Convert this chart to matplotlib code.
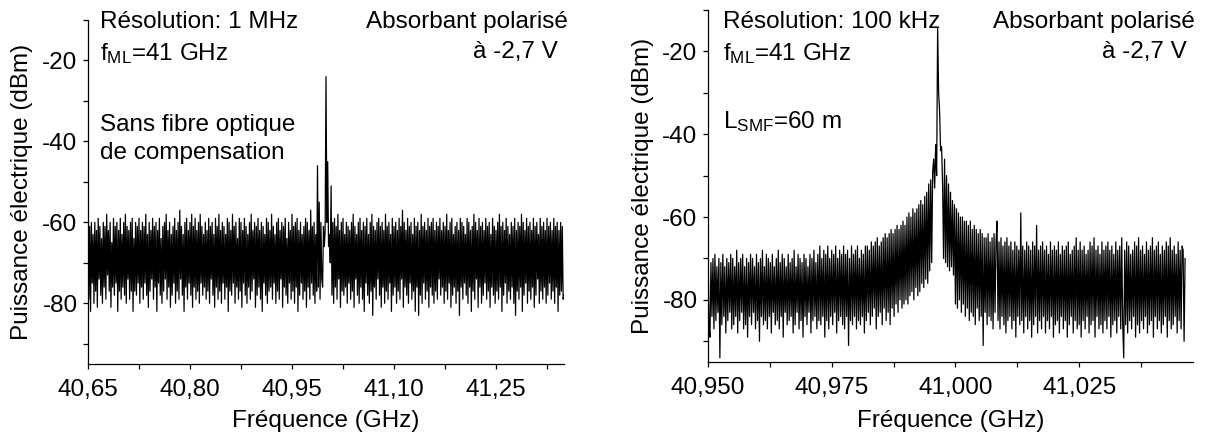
import numpy as np
import matplotlib
matplotlib.use("Agg")
import matplotlib.pyplot as plt

plt.rcParams['font.family'] = ['Liberation Sans', 'DejaVu Sans']
plt.rcParams['mathtext.fontset'] = 'custom'
plt.rcParams['mathtext.rm'] = 'Liberation Sans'
plt.rcParams['mathtext.it'] = 'Liberation Sans:italic'
plt.rcParams['mathtext.bf'] = 'Liberation Sans:bold'

# ---------------- data ----------------
# Left panel: resolution 1 MHz, sweep 40.65 -> 41.35 GHz (561 points)
left_f_start, left_f_stop = 40.65, 41.35
left_power = [
    -59, -79, -61, -82, -60, -75, -63, -80, -60, -77, -62, -81, -59, -74, -61, -78, -64, -80, -60, -76,
    -61, -79, -58, -73, -62, -77, -60, -81, -65, -76, -59, -78, -61, -75, -60, -82, -62, -77, -59, -79,
    -63, -76, -60, -78, -58, -80, -61, -74, -62, -79, -60, -77, -59, -82, -64, -77, -60, -78, -61, -75,
    -59, -80, -62, -76, -60, -79, -61, -75, -58, -78, -63, -81, -60, -77, -62, -74, -59, -79, -61, -76,
    -60, -82, -62, -75, -59, -78, -64, -80, -61, -77, -60, -74, -58, -79, -62, -76, -60, -81, -63, -78,
    -61, -75, -59, -80, -62, -77, -60, -79, -57, -74, -61, -78, -63, -82, -60, -76, -59, -79, -62, -75,
    -60, -78, -58, -81, -61, -76, -59, -79, -62, -77, -60, -80, -58, -75, -61, -78, -63, -76, -60, -79,
    -62, -77, -59, -80, -61, -74, -60, -78, -63, -81, -59, -76, -61, -79, -58, -77, -62, -80, -60, -75,
    -61, -79, -63, -76, -59, -82, -60, -77, -62, -78, -58, -75, -61, -80, -60, -76, -64, -79, -59, -77,
    -60, -81, -62, -75, -59, -78, -61, -80, -63, -76, -60, -79, -58, -77, -62, -74, -60, -81, -61, -78,
    -59, -76, -62, -79, -60, -82, -61, -75, -63, -78, -59, -80, -60, -77, -62, -76, -58, -79, -61, -75,
    -63, -80, -60, -77, -59, -79, -62, -74, -60, -81, -61, -76, -59, -78, -64, -80, -60, -75, -62, -79,
    -58, -77, -61, -80, -60, -76, -59, -82, -62, -78, -60, -75, -63, -79, -61, -77, -59, -81, -60, -76,
    -62, -79, -57, -75, -61, -78, -60, -80, -63, -77, -46, -76, -55, -79, -60, -74, -76, -61, -66, -62,
    -24, -60, -45, -66, -63, -70, -51, -78, -60, -80, -59, -76, -61, -79, -58, -74, -62, -81, -60, -77,
    -59, -78, -63, -76, -60, -80, -61, -75, -62, -79, -60, -77, -58, -81, -61, -74, -63, -78, -60, -80,
    -59, -76, -62, -79, -60, -82, -61, -75, -59, -78, -63, -80, -60, -77, -58, -83, -61, -76, -62, -79,
    -60, -74, -59, -78, -61, -81, -60, -76, -62, -80, -58, -77, -61, -79, -60, -75, -63, -82, -59, -78,
    -61, -76, -60, -80, -62, -77, -59, -79, -61, -74, -57, -81, -60, -76, -62, -78, -59, -80, -61, -75,
    -60, -79, -63, -77, -59, -82, -61, -76, -60, -83, -62, -78, -58, -80, -61, -75, -60, -79, -62, -77,
    -59, -81, -61, -76, -60, -78, -59, -80, -62, -77, -60, -79, -61, -74, -59, -78, -62, -76, -60, -80,
    -61, -77, -58, -79, -62, -75, -60, -81, -59, -78, -63, -76, -61, -80, -60, -77, -62, -83, -59, -76,
    -60, -79, -61, -75, -63, -78, -59, -80, -60, -76, -62, -82, -61, -77, -58, -79, -60, -74, -62, -81,
    -59, -76, -61, -80, -60, -78, -62, -75, -59, -79, -61, -77, -60, -81, -63, -76, -59, -78, -61, -80,
    -62, -77, -60, -79, -58, -76, -61, -82, -60, -78, -62, -75, -59, -80, -61, -77, -63, -79, -60, -76,
    -61, -80, -59, -83, -62, -77, -60, -79, -61, -76, -58, -82, -60, -78, -62, -75, -59, -80, -61, -77,
    -60, -79, -62, -76, -59, -81, -61, -78, -60, -74, -63, -80, -59, -77, -61, -79, -60, -76, -62, -80,
    -59, -78, -61, -75, -60, -79, -62, -77, -59, -80, -61, -76, -60, -82, -62, -78, -60, -77, -61, -79,
    -78,
]

# Right panel: resolution 100 kHz, sweep 40.95 -> 41.0464 GHz (483 points)
right_f_start, right_f_stop = 40.95, 41.0464
right_power = [
    -66, -86, -89, -71, -84, -70, -87, -69, -85, -72, -83, -70, -94, -71, -86, -69, -84, -72, -88, -70,
    -85, -71, -83, -69, -87, -70, -86, -72, -84, -68, -88, -71, -85, -70, -83, -69, -87, -72, -86, -70,
    -89, -71, -84, -69, -86, -70, -83, -72, -87, -69, -85, -71, -90, -70, -84, -68, -86, -72, -85, -69,
    -87, -70, -84, -71, -88, -69, -83, -72, -86, -70, -85, -68, -87, -71, -84, -69, -89, -70, -83, -72,
    -86, -69, -85, -71, -84, -70, -88, -68, -86, -72, -83, -69, -87, -70, -85, -71, -89, -69, -84, -70,
    -86, -72, -83, -69, -88, -70, -85, -68, -84, -71, -87, -69, -85, -67, -86, -70, -84, -68, -89, -69,
    -85, -67, -87, -70, -84, -68, -86, -69, -83, -67, -88, -70, -85, -68, -84, -69, -86, -67, -87, -69,
    -84, -68, -91, -70, -85, -67, -86, -69, -84, -68, -87, -67, -85, -70, -86, -68, -84, -69, -88, -67,
    -85, -67, -83, -68, -86, -66, -84, -67, -82, -66, -87, -65, -84, -67, -83, -66, -86, -65, -82, -64,
    -85, -65, -83, -64, -86, -63, -82, -64, -84, -63, -81, -62, -83, -63, -80, -62, -82, -61, -81, -62,
    -80, -60, -81, -59, -79, -60, -78, -58, -80, -59, -77, -58, -79, -57, -78, -56, -76, -57, -77, -55,
    -75, -54, -76, -52, -73, -51, -71, -49, -46, -53, -42.5, -50, -14.2, -30, -34.5, -44, -43, -52, -70, -46,
    -71, -50, -72, -52, -73, -54, -72, -56, -74, -57, -81, -58, -82, -59, -80, -60, -83, -60, -81, -61,
    -84, -61, -82, -62, -85, -61, -83, -63, -84, -62, -86, -63, -82, -64, -85, -63, -84, -64, -91, -65,
    -83, -65, -86, -64, -84, -66, -85, -65, -87, -64, -83, -66, -61, -85, -66, -87, -65, -84, -67, -86,
    -66, -88, -65, -85, -67, -84, -66, -87, -68, -85, -66, -89, -67, -84, -68, -86, -59, -85, -67, -88,
    -68, -84, -66, -87, -67, -85, -68, -89, -66, -86, -67, -84, -62, -88, -68, -85, -67, -87, -66, -84,
    -68, -88, -67, -85, -69, -87, -66, -84, -68, -89, -67, -86, -68, -85, -66, -88, -69, -84, -67, -87,
    -68, -85, -67, -89, -66, -86, -69, -84, -68, -88, -67, -85, -65, -87, -68, -86, -66, -89, -68, -85,
    -67, -87, -69, -84, -68, -88, -66, -86, -67, -85, -65, -89, -68, -84, -67, -87, -69, -86, -66, -88,
    -68, -85, -67, -87, -66, -84, -68, -89, -67, -86, -69, -85, -66, -88, -68, -84, -67, -87, -65, -86,
    -94, -68, -86, -66, -88, -67, -85, -69, -87, -68, -84, -66, -89, -67, -86, -65, -88, -68, -85, -67,
    -87, -69, -84, -66, -88, -68, -86, -67, -85, -65, -89, -68, -84, -67, -87, -66, -85, -69, -88, -67,
    -86, -68, -84, -66, -89, -67, -85, -65, -87, -68, -86, -67, -84, -69, -88, -66, -85, -68, -87, -67,
    -68, -90, -70,
]

left_xticks = [40.65, 40.80, 40.95, 41.10, 41.25]
left_xticklabels = ['40,65', '40,80', '40,95', '41,10', '41,25']
left_xminor = [40.725, 40.875, 41.025, 41.175, 41.325]
left_xlim = (40.65, 41.35)

right_xticks = [40.950, 40.975, 41.000, 41.025]
right_xticklabels = ['40,950', '40,975', '41,000', '41,025']
right_xminor = [40.9625, 40.9875, 41.0125, 41.0375]
right_xlim = (40.95, 41.048)

yticks = [-20, -40, -60, -80]
yticklabels = ['-20', '-40', '-60', '-80']
yminor = [-10, -30, -50, -70, -90]
ylim = (-95, -10)

left_freq = np.linspace(left_f_start, left_f_stop, len(left_power))
right_freq = np.linspace(right_f_start, right_f_stop, len(right_power))

# ---------------- figure ----------------
W, H = 1213, 437
fig = plt.figure(figsize=(W / 100, H / 100), dpi=100)

def px_axes(l, t, r, b):
    return fig.add_axes([l / W, 1 - b / H, (r - l) / W, (b - t) / H])

ax1 = px_axes(88, 20, 564, 364)
ax2 = px_axes(708, 10, 1193, 362)

FS = 17.5

def style(ax, xt, xtl, xmin, xlim, ylab_x):
    for s in ('top', 'right'):
        ax.spines[s].set_visible(False)
    for s in ('left', 'bottom'):
        ax.spines[s].set_linewidth(0.9)
    ax.set_xlim(*xlim)
    ax.set_ylim(*ylim)
    ax.set_xticks(xt)
    ax.set_xticklabels(xtl)
    ax.set_xticks(xmin, minor=True)
    ax.set_yticks(yticks)
    ax.set_yticklabels(yticklabels)
    ax.set_yticks(yminor, minor=True)
    ax.tick_params(which='both', direction='out', length=3.5, width=0.9,
                   labelsize=FS)
    ax.tick_params(axis='y', pad=4)
    ax.tick_params(axis='x', pad=7)
    ax.set_xlabel('Fréquence (GHz)', fontsize=FS)
    ax.set_ylabel('Puissance électrique (dBm)', fontsize=FS)
    ax.xaxis.set_label_coords(0.5, -0.135)
    ax.yaxis.set_label_coords(ylab_x, 0.5)

ax1.plot(left_freq, left_power, color='black', lw=0.9)
ax2.plot(right_freq, right_power, color='black', lw=0.9)
style(ax1, left_xticks, left_xticklabels, left_xminor, left_xlim, -0.115)
style(ax2, right_xticks, right_xticklabels, right_xminor, right_xlim, -0.112)

def ftext(x, y, s, ha='left'):
    fig.text(x / W, 1 - y / H, s, fontsize=FS, ha=ha, va='baseline')

# left annotations
ftext(100, 28, 'Résolution: 1 MHz')
ftext(100, 60, r'f$_{\mathregular{ML}}$=41 GHz')
ftext(100, 131, 'Sans fibre optique')
ftext(100, 159, 'de compensation')
ftext(568, 28, 'Absorbant polarisé', ha='right')
ftext(558, 58, 'à -2,7 V', ha='right')

# right annotations
ftext(723, 28, 'Résolution: 100 kHz')
ftext(723, 60, r'f$_{\mathregular{ML}}$=41 GHz')
ftext(723, 128, r'L$_{\mathregular{SMF}}$=60 m')
ftext(1195, 28, 'Absorbant polarisé', ha='right')
ftext(1187, 58, 'à -2,7 V', ha='right')

fig.savefig('out.png', dpi=100)
